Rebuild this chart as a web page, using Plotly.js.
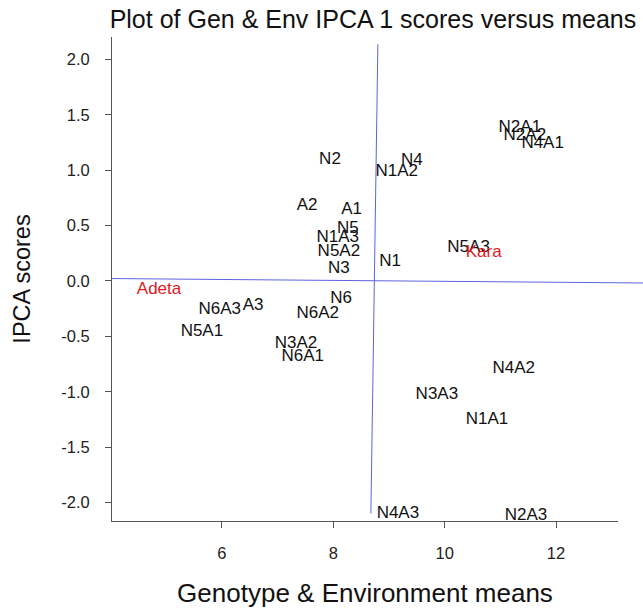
<!DOCTYPE html>
<html>
<head>
<meta charset="utf-8">
<script src="https://cdn.plot.ly/plotly-3.0.1.min.js"></script>
<style>
  html, body { margin: 0; padding: 0; background: #fff; }
  #chart { width: 643px; height: 608px; }
</style>
</head>
<body>
<div id="chart"></div>
<script>
// Black labels (genotype / treatment combinations)
const blackLabels = ["N2A1","N2A2","N4A1","N2","N4","N1A2","A2","A1","N5","N1A3","N5A2","N3","N1","N5A3",
  "N6","N6A3","A3","N6A2","N5A1","N3A2","N6A1","N4A2","N3A3","N1A1","N4A3","N2A3"];
const blackMeans = [11.35,11.44,11.76,7.94,9.41,9.14,7.53,8.33,8.26,8.08,8.10,8.10,9.02,10.43,
  8.14,5.96,6.56,7.72,5.64,7.33,7.45,11.24,9.86,10.76,9.16,11.46];
const blackIPCA = [1.387,1.315,1.243,1.098,1.089,0.990,0.683,0.647,0.476,0.394,0.268,0.115,0.178,0.304,
  -0.156,-0.255,-0.219,-0.292,-0.454,-0.562,-0.680,-0.788,-1.023,-1.248,-2.097,-2.115];

// Red labels (locations)
const redLabels = ["Adeta","Kara"];
const redMeans = [4.87,10.70];
const redIPCA = [-0.075,0.259];

// Reference lines: grand mean (vertical) and zero IPCA (horizontal)
const vLineX = [8.80, 8.675];
const vLineY = [2.136, -2.097];
const hLineY = [0.022, -0.018];

// Tick values
const xTicks = [6, 8, 10, 12];
const yTicks = [-2.0, -1.5, -1.0, -0.5, 0.0, 0.5, 1.0, 1.5, 2.0];

const FONT = "Liberation Sans, Arial, sans-serif";

const traces = [
  {
    type: "scatter", mode: "text", name: "Black",
    x: blackMeans, y: blackIPCA, text: blackLabels,
    textposition: "middle center", cliponaxis: false,
    textfont: { family: FONT, size: 17, color: "#111" },
    hoverinfo: "text+x+y", showlegend: false
  },
  {
    type: "scatter", mode: "text", name: "Red",
    x: redMeans, y: redIPCA, text: redLabels,
    textposition: "middle center", cliponaxis: false,
    textfont: { family: FONT, size: 17, color: "#e3191c" },
    hoverinfo: "text+x+y", showlegend: false
  }
];

const axisCommon = {
  showline: true, linecolor: "#555", linewidth: 1,
  showgrid: false, zeroline: false,
  ticks: "outside", ticklen: 6, tickwidth: 1, tickcolor: "#555",
  tickfont: { family: FONT, size: 16.5, color: "#222" },
  mirror: false, fixedrange: true
};

const layout = {
  width: 643, height: 608,
  paper_bgcolor: "#fff", plot_bgcolor: "#fff",
  margin: { l: 112, r: 25, t: 37, b: 87, pad: 0 },
  showlegend: false,
  font: { family: FONT, color: "#111" },
  title: {
    text: "Plot of Gen & Env IPCA 1 scores versus means",
    font: { family: FONT, size: 25, color: "#111" },
    xref: "container", x: 0.58, xanchor: "center",
    yref: "container", y: 0.969, yanchor: "middle"
  },
  xaxis: Object.assign({}, axisCommon, {
    range: [4.025, 13.113],
    tickvals: xTicks, ticktext: xTicks.map(String),
    ticklabelstandoff: 11,
    title: { text: "Genotype & Environment means", font: { family: FONT, size: 26, color: "#111" }, standoff: 25 }
  }),
  yaxis: Object.assign({}, axisCommon, {
    range: [-2.166, 2.202],
    tickvals: yTicks, ticktext: yTicks.map(v => v.toFixed(1)),
    ticklabelstandoff: 12,
    title: { text: "IPCA scores", font: { family: FONT, size: 23.5, color: "#111" }, standoff: 24 }
  }),
  shapes: [
    { type: "line", xref: "x", yref: "y", x0: vLineX[0], y0: vLineY[0], x1: vLineX[1], y1: vLineY[1],
      line: { color: "#5b63e0", width: 1 } },
    { type: "line", xref: "paper", yref: "y", x0: 0, y0: hLineY[0], x1: 1.05, y1: hLineY[1],
      line: { color: "#5b63e0", width: 1 } }
  ]
};

Plotly.newPlot("chart", traces, layout, { displayModeBar: false, staticPlot: true });
</script>
</body>
</html>
